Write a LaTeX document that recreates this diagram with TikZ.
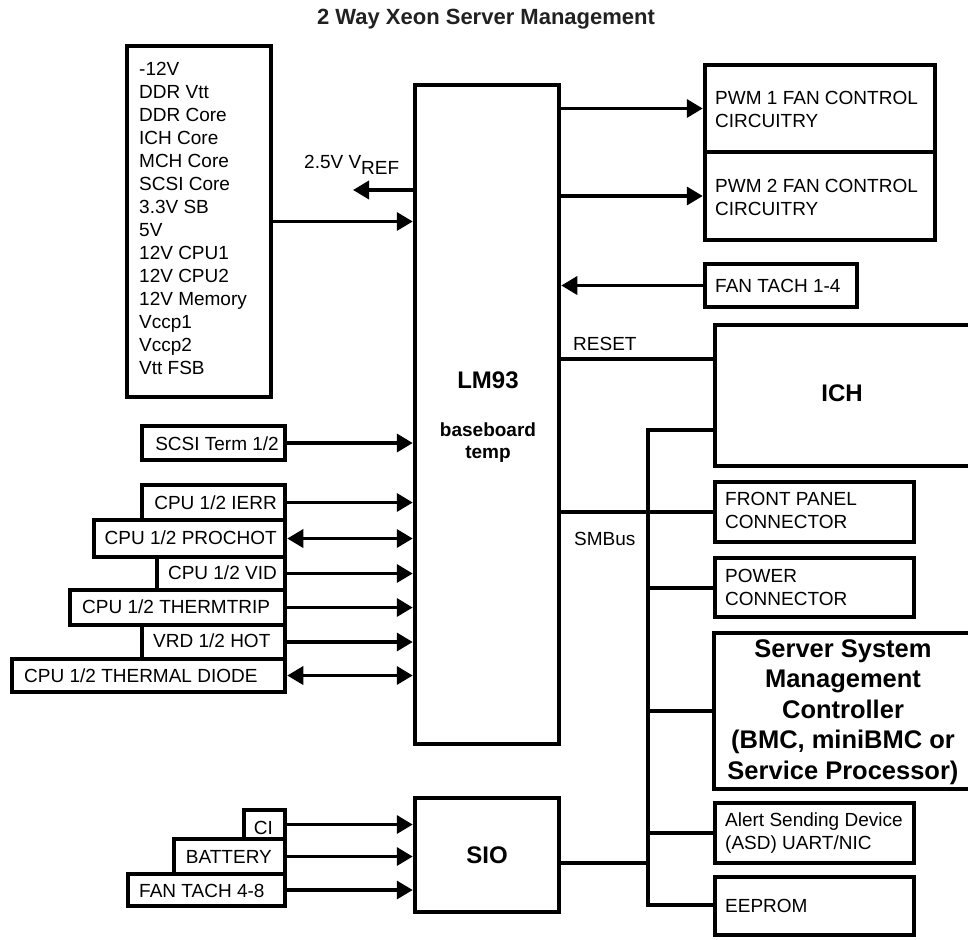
\documentclass[tikz,border=0pt]{standalone}
\usepackage{fontspec}
\setmainfont{Liberation Sans}
\usetikzlibrary{arrows.meta}
\newcommand\myreg{\fontsize{19}{23}\selectfont}
\newcommand\mysmallish{\fontsize{19}{22.5}\selectfont}
\newcommand\mybig{\fontsize{24}{30.5}\selectfont\bfseries}
\newcommand\mysmc{\fontsize{25.5}{30.5}\selectfont\bfseries}
\newcommand\mymid{\fontsize{19}{22}\selectfont\bfseries}
\newcommand\mytitle{\fontsize{22}{26}\selectfont\bfseries}
\begin{document}
\begin{tikzpicture}[x=1pt,y=-1pt,
  box/.style={draw, line width=4.5pt, inner sep=0pt},
  wire/.style={line width=3.5pt},
  bus/.style={line width=4pt},
  arr/.style={wire, -{Triangle[length=16pt,width=18pt]}},
  darr/.style={wire, {Triangle[length=16pt,width=18pt]}-{Triangle[length=16pt,width=18pt]}},
  txt/.style={inner sep=0pt, font=\myreg},
]
\useasboundingbox (0,0) rectangle (968,939);
\clip (0,0) rectangle (968,939);

% title
\node[txt, font=\mytitle, text=black!87, anchor=base] (title) at (486,25) {2 Way Xeon Server Management};

% main blocks
\node[box, minimum width=144pt, minimum height=659pt] (lm) at (487,414.5) {};
\node[txt, font=\mybig] (lmlbl) at (488,380.5) {LM93};
\node[txt, font=\mymid, align=center, anchor=north] (lmsub) at (488,423) {baseboard\\temp};

\node[box, minimum width=144pt, minimum height=114pt] (sio) at (487,855) {};
\node[txt, font=\mybig] (siolbl) at (487,855) {SIO};

% voltage list
\node[box, minimum width=144pt, minimum height=351pt] (volt) at (199,221.5) {};
\node[txt, align=left, anchor=north west] (vlist) at (139,62)
  {-12V\\DDR Vtt\\DDR Core\\ICH Core\\MCH Core\\SCSI Core\\3.3V SB\\5V\\12V CPU1\\12V CPU2\\12V Memory\\Vccp1\\Vccp2\\Vtt FSB};
\node[txt, anchor=base west] (vreflbl) at (304,168) {2.5V V\raisebox{-6pt}{REF}};
\coordinate (vref) at (353,190);

% right top boxes
\node[box, minimum width=230pt, minimum height=87pt] (pwm1) at (820,108.5) {};
\node[box, minimum width=230pt, minimum height=88pt] (pwm2) at (820,196) {};
\node[txt, align=left, anchor=north west] (pwm1lbl) at (715,91) {PWM 1 FAN CONTROL\\CIRCUITRY};
\node[txt, align=left, anchor=north west] (pwm2lbl) at (715,179) {PWM 2 FAN CONTROL\\CIRCUITRY};
\node[box, minimum width=152pt, minimum height=43pt] (fant) at (781,285.5) {};
\node[txt, anchor=base west] (fantlbl) at (715,292) {FAN TACH 1-4};

% ICH and SMC (open on the right)
\node[box, minimum width=285pt, minimum height=141pt] (ich) at (857.5,395.5) {};
\node[txt, font=\mybig] (ichlbl) at (842,393) {ICH};
\node[box, minimum width=286pt, minimum height=156pt] (smc) at (857,711) {};
\node[txt, font=\mysmc, align=center, anchor=north] (smclbl) at (843,639)
  {Server System\\Management\\Controller\\(BMC, miniBMC or\\Service Processor)};

\node[box, minimum width=199pt, minimum height=60pt] (front) at (814.5,512) {};
\node[txt, align=left, anchor=north west] (frontlbl) at (725,492) {FRONT PANEL\\CONNECTOR};
\node[box, minimum width=199pt, minimum height=59pt] (power) at (814.5,587.5) {};
\node[txt, align=left, anchor=north west] (powerlbl) at (725,569) {POWER\\CONNECTOR};
\node[box, minimum width=199pt, minimum height=60pt] (alert) at (814.5,833) {};
\node[txt, font=\mysmallish, align=left, anchor=north west] (alertlbl) at (725,813) {Alert Sending Device\\(ASD) UART/NIC};
\node[box, minimum width=199pt, minimum height=58pt] (eeprom) at (814.5,906) {};
\node[txt, anchor=base west] (eepromlbl) at (725,912) {EEPROM};

\node[txt, anchor=base west] (resetlbl) at (573,350) {RESET};
\node[txt, anchor=base west] (smblbl) at (574,545) {SMBus};

% left input boxes
\node[box, minimum width=143pt, minimum height=34pt] (scsi) at (213.5,443) {};
\node[txt, anchor=base east] (scsilbl) at (279,450) {SCSI Term 1/2};

\node[box, minimum width=143pt, minimum height=35pt] (ierr) at (213.5,502.5) {};
\node[box, minimum width=191pt, minimum height=37pt] (prochot) at (189.5,538.5) {};
\node[box, minimum width=128pt, minimum height=33pt] (vid) at (221,573.5) {};
\node[box, minimum width=215pt, minimum height=35pt] (thermtrip) at (177.5,607.5) {};
\node[box, minimum width=143pt, minimum height=34pt] (vrd) at (213.5,642) {};
\node[box, minimum width=273pt, minimum height=33pt] (diode) at (148.5,675.5) {};
\node[txt, anchor=base east] (ierrlbl) at (277,509) {CPU 1/2 IERR};
\node[txt, anchor=base east] (prochotlbl) at (277,544) {CPU 1/2 PROCHOT};
\node[txt, anchor=base east] (vidlbl) at (277,579) {CPU 1/2 VID};
\node[txt, anchor=base west] (thermtriplbl) at (82,613) {CPU 1/2 THERMTRIP};
\node[txt, anchor=base west] (vrdlbl) at (153,647) {VRD 1/2 HOT};
\node[txt, anchor=base west] (diodelbl) at (24,682) {CPU 1/2 THERMAL DIODE};

% SIO inputs
\node[box, minimum width=41pt, minimum height=29pt] (ci) at (264.5,824.5) {};
\node[box, minimum width=111pt, minimum height=35pt] (batt) at (229.5,856.5) {};
\node[box, minimum width=157pt, minimum height=32pt] (fant2) at (206.5,890) {};
\node[txt, anchor=base east] (cilbl) at (273,834) {CI};
\node[txt, anchor=base east] (battlbl) at (272,863) {BATTERY};
\node[txt, anchor=base west] (fant2lbl) at (139,897) {FAN TACH 4-8};

% connectors to LM93
\draw[arr] (lm.west |- vref) -- (vref);
\draw[arr] (volt.east) -- (volt.east -| lm.west);
\draw[arr] (lm.east |- pwm1.west) -- (pwm1.west);
\draw[arr] (lm.east |- pwm2.west) -- (pwm2.west);
\draw[arr] (fant.west) -- (fant.west -| lm.east);
\draw[arr] (scsi.east) -- (scsi.east -| lm.west);
\draw[arr] (ierr.east) -- (ierr.east -| lm.west);
\draw[darr] (prochot.east) -- (prochot.east -| lm.west);
\draw[arr] (vid.east) -- (vid.east -| lm.west);
\draw[arr] (thermtrip.east) -- (thermtrip.east -| lm.west);
\draw[arr] (vrd.east) -- (vrd.east -| lm.west);
\draw[darr] (diode.east) -- (diode.east -| lm.west);

% connectors to SIO
\draw[arr] (ci.east) -- (ci.east -| sio.west);
\draw[arr] (batt.east) -- (batt.east -| sio.west);
\draw[arr] (fant2.east) -- (fant2.east -| sio.west);

% RESET and SMBus
\coordinate (rowreset) at (0,359);
\coordinate (bustop) at (648,430);
\coordinate (busbot) at (648,905);
\coordinate (rowsio) at (0,863);
\draw[wire] (lm.east |- rowreset) -- (ich.west |- rowreset);
\draw[bus] (ich.west |- bustop) -- (bustop) -- (busbot) -- (eeprom.west |- busbot);
\draw[bus] (lm.east |- front.west) -- (front.west);
\draw[bus] (power.west) -- (power.west -| bustop);
\draw[bus] (smc.west) -- (smc.west -| bustop);
\draw[bus] (alert.west) -- (alert.west -| bustop);
\draw[bus] (sio.east |- rowsio) -- (rowsio -| bustop);
\end{tikzpicture}
\end{document}
